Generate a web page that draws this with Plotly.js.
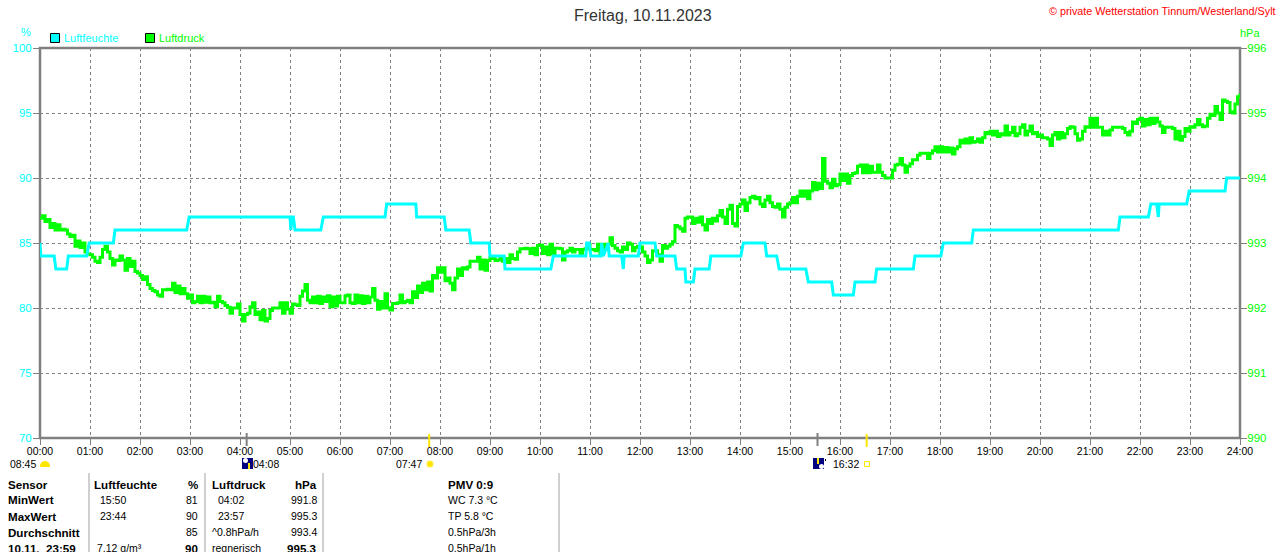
<!DOCTYPE html>
<html><head><meta charset="utf-8">
<script src="https://cdn.plot.ly/plotly-3.0.1.min.js"></script>
<style>html,body{margin:0;padding:0;background:#fff;overflow:hidden}#c{width:1280px;height:552px}</style>
</head><body><div id="c"></div>
<script>
const chartTitle = "Freitag, 10.11.2023";
const credit = "© private Wetterstation Tinnum/Westerland/Sylt";
const hourLabels = ["00:00","01:00","02:00","03:00","04:00","05:00","06:00","07:00","08:00","09:00","10:00","11:00","12:00","13:00","14:00","15:00","16:00","17:00","18:00","19:00","20:00","21:00","22:00","23:00","24:00"];
const humidityTicks = [70,75,80,85,90,95,100];
const pressureTicks = [990,991,992,993,994,995,996];

// Humidity, % (minute of day, value)
const humidityMinutes = [0,1,17,19,32,34,56,59,88,90,176,179,300,301,302,304,306,337,340,414,416,451,452,485,487,515,517,539,540,557,558,613,616,655,656,659,661,673,674,676,682,683,698,700,701,718,720,738,740,762,764,774,775,784,786,803,805,841,844,870,872,884,887,919,922,950,952,976,978,1002,1004,1048,1050,1081,1084,1118,1120,1294,1296,1330,1333,1340,1342,1343,1376,1379,1422,1424,1440];
const humidityValues  = [85,84,84,83,83,84,84,85,85,86,86,87,87,86,87,87,86,86,87,87,88,88,87,87,86,86,85,85,84,84,83,83,84,84,85,85,84,84,85,84,85,84,84,83,84,84,85,85,84,84,83,83,82,82,83,83,84,84,85,85,84,84,83,83,82,82,81,81,82,82,83,83,84,84,85,85,86,86,87,87,88,88,87,88,88,89,89,90,90];

// Pressure, hPa, one reading every 3 minutes, one row per hour
const pressureStepMinutes = 3;
const pressureValues = [
993.38,993.42,993.33,993.36,993.24,993.30,993.20,993.28,993.20,993.21,993.20,993.14,993.10,993.12,992.95,993.03,992.93,993.00,992.86,992.83,
992.82,992.78,992.72,992.70,992.78,992.90,992.95,992.86,992.76,992.66,992.74,992.73,992.80,992.74,992.58,992.76,992.64,992.72,992.56,992.54,
992.50,992.44,992.48,992.36,992.30,992.27,992.25,992.20,992.18,992.28,992.28,992.29,992.28,992.38,992.24,992.34,992.22,992.30,992.22,992.15,
992.20,992.08,992.10,992.18,992.08,992.18,992.09,992.17,992.08,992.09,992.02,992.18,992.10,992.08,992.04,992.01,991.92,992.00,992.00,992.06,
991.90,991.80,991.90,991.92,992.02,992.08,991.90,991.94,991.82,991.96,991.80,991.84,991.96,992.00,992.00,992.00,992.08,991.92,992.08,991.98,
991.92,992.06,992.05,992.04,992.18,992.26,992.36,992.12,992.08,992.17,992.08,992.18,992.07,992.17,992.10,992.19,992.02,992.17,992.03,992.18,
992.08,992.08,992.19,992.20,992.08,992.07,992.20,992.08,992.19,992.07,992.18,992.08,992.17,992.30,992.12,991.98,992.10,992.00,992.22,992.00,
991.97,992.07,992.07,992.08,992.20,992.08,992.10,992.12,992.08,992.25,992.16,992.34,992.24,992.38,992.28,992.40,992.26,992.50,992.46,992.62,
992.55,992.62,992.42,992.46,992.38,992.28,992.46,992.60,992.50,992.62,992.60,992.63,992.72,992.72,992.72,992.78,992.60,992.74,992.58,992.73,
992.78,992.76,992.73,992.74,992.78,992.72,992.76,992.70,992.82,992.76,992.75,992.86,992.91,992.91,992.92,992.91,992.84,992.92,992.82,992.96,
992.97,992.84,992.94,992.82,992.98,992.84,992.92,992.92,992.91,992.74,992.86,992.88,992.92,992.86,992.90,992.90,992.84,992.90,992.91,992.98,
992.90,992.90,992.88,992.98,992.82,992.98,992.90,992.98,993.08,992.96,992.92,992.88,992.86,992.94,992.90,993.00,992.98,992.88,992.93,992.95,
992.94,992.86,992.80,992.70,992.74,992.88,992.88,992.82,992.72,992.96,992.92,992.95,992.98,993.02,993.27,993.25,993.22,993.18,993.38,993.40,
993.40,993.30,993.38,993.32,993.40,993.28,993.20,993.36,993.30,993.38,993.34,993.42,993.50,993.40,993.30,993.52,993.58,993.30,993.26,993.56,
993.60,993.66,993.50,993.62,993.70,993.72,993.68,993.70,993.60,993.56,993.66,993.72,993.62,993.56,993.55,993.60,993.52,993.40,993.55,993.60,
993.62,993.70,993.62,993.72,993.80,993.72,993.80,993.68,993.80,993.93,993.82,993.92,993.84,994.30,993.95,993.92,993.85,993.98,993.88,993.90,
994.06,993.96,994.06,993.92,994.04,994.07,994.08,994.18,994.20,994.08,994.20,994.08,994.18,994.09,994.09,994.20,994.09,994.04,994.00,994.00,
994.00,994.12,994.20,994.21,994.30,994.20,994.09,994.18,994.22,994.28,994.28,994.35,994.38,994.38,994.38,994.30,994.38,994.42,994.48,994.40,
994.48,994.40,994.47,994.40,994.46,994.37,994.45,994.48,994.58,994.54,994.60,994.54,994.62,994.55,994.56,994.60,994.55,994.62,994.70,994.68,
994.72,994.66,994.72,994.64,994.68,994.66,994.80,994.66,994.70,994.78,994.65,994.68,994.78,994.82,994.66,994.72,994.80,994.68,994.70,994.64,
994.66,994.62,994.62,994.60,994.50,994.66,994.70,994.60,994.70,994.62,994.68,994.76,994.79,994.78,994.68,994.58,994.60,994.72,994.79,994.78,
994.92,994.78,994.92,994.78,994.78,994.66,994.72,994.66,994.74,994.78,994.78,994.78,994.78,994.76,994.70,994.66,994.72,994.86,994.84,994.90,
994.92,994.80,994.90,994.82,994.92,994.84,994.92,994.86,994.80,994.70,994.78,994.78,994.78,994.76,994.60,994.72,994.58,994.64,994.76,994.72,
994.79,994.78,994.82,994.90,994.82,994.79,994.80,994.92,994.98,994.96,995.10,995.00,994.90,995.20,995.18,995.16,995.02,995.00,995.14,995.25,
995.30];

// Sun and moon events, minutes of day
const moonRise = 248, moonSet = 933, sunRise = 467, sunSet = 992;

// Table below the chart
const sensorRows = ["Sensor","MinWert","MaxWert","Durchschnitt","10.11.  23:59"];
const humidityNotes = ["Luftfeuchte","15:50","23:44","","7.12 g/m³"];
const humidityCells = ["%","81","90","85","90"];
const pressureNotes = ["Luftdruck","04:02","23:57","^0.8hPa/h","regnerisch"];
const pressureCells = ["hPa","991.8","995.3","993.4","995.3"];
const extraRows = ["PMV 0:9","WC 7.3 °C","TP 5.8 °C","0.5hPa/3h","0.5hPa/1h"];

const F = "Liberation Sans, Arial, sans-serif";
const GRAY = "#808080", CY = "#00FFFF", GR = "#00FF00";
const px = x => (x - 40) / 1200, py = y => (438 - y) / 390;

const ann = [];
function T(x, y, text, color, size, anchor) {
  ann.push({xref:"paper", yref:"paper", x:px(x), y:py(y), text, showarrow:false, xanchor:anchor||"left", yanchor:"middle",
    font:{family:F, size:size||11, color:color||"#000"}, borderpad:0, borderwidth:0});
}
T(1276, 11, credit, "#FF0000", 10.8, "right");
T(26, 32, "%", CY, 11, "center");
T(1250, 33, "hPa", GR, 11, "center");
T(64, 38, "Luftfeuchte", CY, 11);
T(159, 38, "Luftdruck", GR, 11);
T(10, 464, "08:45", "#000", 10.5);
T(253, 464, "04:08", "#000", 10.5);
T(396, 464, "07:47", "#000", 10.5);
T(833, 464, "16:32", "#000", 10.5);
const rowY = [484,500,516,532,548];
const BS = 11.6;
rowY.forEach((y,i)=>{
  const b = s => s ? "<b>"+s+"</b>" : s;
  T(8, y, b(sensorRows[i]), "#000", BS);
  T(i===0?94:(i===4?97:100), y, i===0?b(humidityNotes[i]):humidityNotes[i], "#000", i===0?BS:10.5);
  T(198, y, (i===0||i===4)?b(humidityCells[i]):humidityCells[i], "#000", (i===0||i===4)?BS:10.5, "right");
  T((i===1||i===2)?218:212, y, i===0?b(pressureNotes[i]):pressureNotes[i], "#000", i===0?BS:10.5);
  T(317, y, (i===0||i===4)?b(pressureCells[i]):pressureCells[i], "#000", (i===0||i===4)?BS:10.5, "right");
  T(448, y, i===0?b(extraRows[i]):extraRows[i], "#000", i===0?BS:10.5);
});

const shapes = [];
function R(x0,y0,x1,y1,fill,line,w){shapes.push({type:"rect",xref:"paper",yref:"paper",x0:px(x0),x1:px(x1),y0:py(y0),y1:py(y1),fillcolor:fill,line:{color:line||fill,width:line?(w||1):0},layer:"above"});}
function L(x0,y0,x1,y1,c,w){shapes.push({type:"line",xref:"paper",yref:"paper",x0:px(x0),x1:px(x1),y0:py(y0),y1:py(y1),line:{color:c,width:w},layer:"above"});}
function O(x0,y0,x1,y1,fill){shapes.push({type:"circle",xref:"paper",yref:"paper",x0:px(x0),x1:px(x1),y0:py(y0),y1:py(y1),fillcolor:fill,line:{width:0},layer:"above"});}
function VT(min,y0,y1,c,w){shapes.push({type:"line",xref:"x",yref:"paper",x0:min,x1:min,y0:py(y0),y1:py(y1),line:{color:c,width:w},layer:"above"});}
// plot frame, centred on the plot edges
shapes.push({type:"rect",xref:"paper",yref:"paper",x0:0,x1:1,y0:0,y1:1,fillcolor:"rgba(0,0,0,0)",line:{color:GRAY,width:2.5},layer:"below"});
// legend swatches
R(50.5,33.5,59.5,42.5,CY,"#000",1);
R(145.5,33.5,154.5,42.5,GR,"#000",1);
// event ticks
VT(moonRise,433,446,GRAY,2);
VT(moonSet,433,446,GRAY,2);
VT(sunRise,434,447,"#FFE600",2);
VT(sunSet,434,447,"#FFE600",2);
// icons
O(40,461,50,471,"#FFE600"); R(39,467,51,472,"#fff");
R(242,458,253,469,"#000080"); O(243,458,248,463,"#fff"); R(248,463,250,469,"#FFE600");
O(425.5,459.5,434.5,468.5,"rgba(255,240,120,.35)"); O(427,461,433,467,"#FFE600");
R(813,458,824,469,"#000080"); R(817,458,819,464,"#FFE600"); O(819,464,824,469,"#fff");
L(825.5,459,825.5,461,"#000",1);
R(864.5,461.5,869.5,466.5,"#fff","#FFE600",1);
// table separators
[89,205,323,559].forEach(x=>L(x,473,x,552,"#A0A0A0",1));

const pressureMinutes = pressureValues.map((_,i)=>i*pressureStepMinutes);
const hourTicks = hourLabels.map((_,i)=>i*60);

const data = [
 {x:pressureMinutes, y:pressureValues, type:"scatter", mode:"lines", name:"Luftdruck", yaxis:"y", line:{color:GR,width:3,shape:"hv"}, hoverinfo:"skip"},
 {x:humidityMinutes, y:humidityValues, type:"scatter", mode:"lines", name:"Luftfeuchte", yaxis:"y2", line:{color:CY,width:3,shape:"linear"}, hoverinfo:"skip"}
];
const layout = {
 width:1280, height:552, autosize:false, paper_bgcolor:"#fff", plot_bgcolor:"#fff", showlegend:false,
 margin:{l:40,r:40,t:48,b:114,pad:0},
 title:{text:chartTitle, x:643/1280, xref:"paper", xanchor:"center", y:1-15/552, yanchor:"middle", font:{family:F,size:16,color:"#333"}},
 font:{family:F},
 xaxis:{range:[0,1440], tickmode:"array", tickvals:hourTicks, ticktext:hourLabels, showgrid:true, gridcolor:GRAY, gridwidth:1, griddash:"3px,3px",
   zeroline:false, showline:false, ticks:"outside", ticklen:6, tickcolor:GRAY, tickwidth:1, tickangle:0, ticklabelstandoff:-3,
   tickfont:{family:F,size:10.5,color:"#000"}},
 yaxis:{range:[990,996], side:"right", tickmode:"array", tickvals:pressureTicks, ticktext:pressureTicks.map(String), showgrid:true, gridcolor:GRAY, gridwidth:1, griddash:"3px,3px",
   zeroline:false, showline:false, ticks:"outside", ticklen:6, tickcolor:GRAY, tickwidth:1, ticklabelstandoff:-2, tickfont:{family:F,size:11.5,color:GR}},
 yaxis2:{range:[70,100], side:"left", overlaying:"y", tickmode:"array", tickvals:humidityTicks, ticktext:humidityTicks.map(String), showgrid:false,
   zeroline:false, showline:false, ticks:"outside", ticklen:6, tickcolor:GRAY, tickwidth:1, ticklabelstandoff:-1, tickfont:{family:F,size:11.5,color:CY}},
 annotations:ann, shapes:shapes
};
Plotly.newPlot("c", data, layout, {displayModeBar:false, staticPlot:true});
</script></body></html>
